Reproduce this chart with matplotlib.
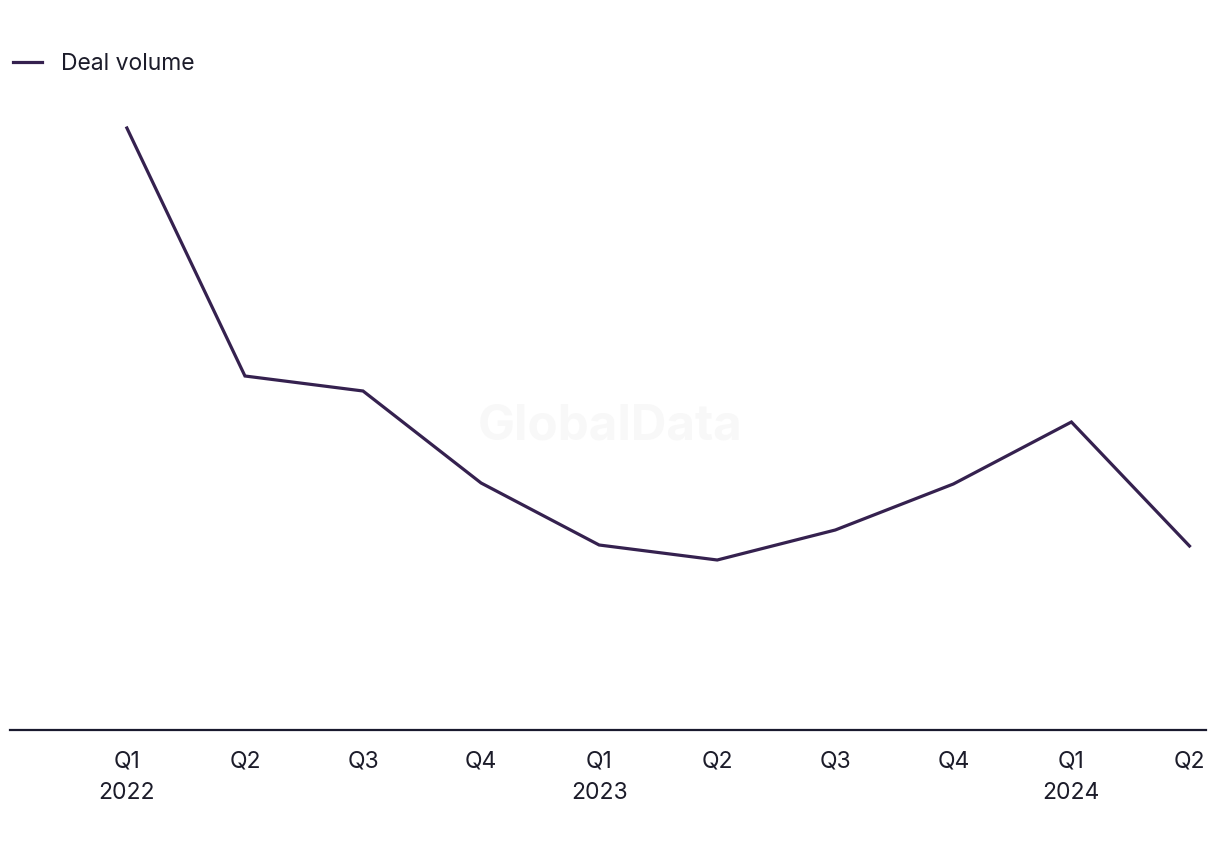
import matplotlib.pyplot as plt

# Quarterly deal volume (no y scale shown; values estimated from line height)
quarters = ['Q1\n2022', 'Q2', 'Q3', 'Q4', 'Q1\n2023', 'Q2', 'Q3', 'Q4', 'Q1\n2024', 'Q2']
deal_volume = [602, 354, 339, 247, 185, 170, 200, 246, 308, 184]

plt.rcParams['font.family'] = ['Inter', 'DejaVu Sans']

line_color = '#35214f'
text_color = '#1c1c2a'

fig = plt.figure(figsize=(12.2, 8.5), dpi=100)
ax = fig.add_axes([10 / 1220, 1 - 730 / 850, 1196 / 1220, 630 / 850])

x = list(range(len(quarters)))
ax.plot(x, deal_volume, color=line_color, linewidth=2.3, label='Deal volume',
        solid_joinstyle='miter')

ax.set_xlim(-0.99, 9.14)
ax.set_ylim(0, 630)

ax.set_xticks(x)
ax.set_xticklabels(quarters, fontsize=16.5, color=text_color, linespacing=1.55)
ax.tick_params(axis='x', length=0, pad=15)
ax.set_yticks([])

for side in ['top', 'right', 'left']:
    ax.spines[side].set_visible(False)
ax.spines['bottom'].set_color('#1a1a2e')
ax.spines['bottom'].set_linewidth(1.6)

# faint watermark
fig.text(610 / 1220, 1 - 427 / 850, 'GlobalData', fontsize=35.5, fontweight='bold',
         color='#f8f8f8', ha='center', va='center', zorder=0)

leg = fig.legend(loc='upper left', bbox_to_anchor=(4 / 1220, 1 - 44 / 850), frameon=False,
                 fontsize=16.5, handlelength=1.25, handletextpad=0.85, borderaxespad=0)
for t in leg.get_texts():
    t.set_color(text_color)

fig.savefig('out.png', dpi=100)
